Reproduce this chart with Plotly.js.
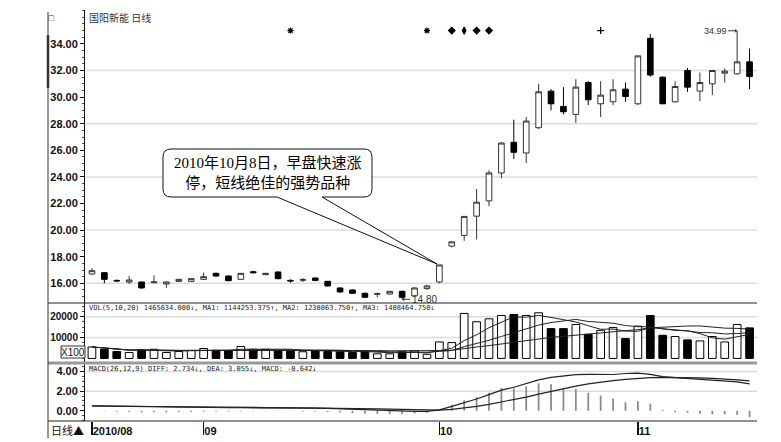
<!DOCTYPE html>
<html><head><meta charset="utf-8">
<script src="https://cdn.plot.ly/plotly-3.0.1.min.js"></script>
<style>html,body{margin:0;padding:0;background:#fff}#chart{width:781px;height:442px}</style>
</head><body><div id="chart"></div>
<script>
// ---------------- DATA ----------------
const dates = [
 '2010-08-19','2010-08-20','2010-08-23','2010-08-24','2010-08-25','2010-08-26','2010-08-27','2010-08-30','2010-08-31',
 '2010-09-01','2010-09-02','2010-09-03','2010-09-06','2010-09-07','2010-09-08','2010-09-09','2010-09-10','2010-09-13',
 '2010-09-14','2010-09-15','2010-09-16','2010-09-17','2010-09-20','2010-09-21','2010-09-27','2010-09-28','2010-09-29','2010-09-30',
 '2010-10-08','2010-10-11','2010-10-12','2010-10-13','2010-10-14','2010-10-15','2010-10-18','2010-10-19','2010-10-20',
 '2010-10-21','2010-10-22','2010-10-25','2010-10-26','2010-10-27','2010-10-28','2010-10-29',
 '2010-11-01','2010-11-02','2010-11-03','2010-11-04','2010-11-05','2010-11-08','2010-11-09','2010-11-10','2010-11-11','2010-11-12'
];
const openP = [16.70,16.80,16.22,16.10,16.10,16.05,15.95,16.15,16.15,16.30,16.75,16.55,16.30,16.87,16.65,16.85,16.22,16.23,16.40,16.15,15.65,15.50,15.25,15.18,15.20,15.40,15.05,15.60,
 16.10,18.80,19.60,21.05,22.20,24.30,26.60,25.80,27.70,30.45,29.30,28.70,31.10,29.50,29.65,30.60,
 29.50,34.42,31.50,29.65,32.00,30.45,31.00,31.80,31.75,32.65];
const highP = [17.15,16.85,16.28,16.55,16.12,16.60,16.15,16.35,16.40,16.80,16.80,16.60,16.78,16.95,16.78,16.90,16.30,16.40,16.45,16.18,15.70,15.55,15.30,15.30,15.42,15.45,15.70,15.90,
 17.38,19.12,21.03,23.10,24.50,26.60,28.30,28.50,31.00,30.60,30.75,31.35,31.20,31.20,31.35,31.10,
 33.10,34.75,31.55,31.20,32.20,31.85,32.05,32.15,34.99,33.65];
const lowP = [16.65,16.00,16.12,15.95,15.60,16.00,15.65,16.10,16.10,16.25,16.50,16.15,16.28,16.75,16.60,16.30,16.05,16.10,16.15,15.75,15.30,15.20,14.90,14.95,15.15,14.80,14.95,15.50,
 16.00,18.70,19.20,19.30,21.80,23.90,25.35,25.05,27.60,29.00,28.70,28.05,29.40,28.50,29.40,29.65,
 29.40,31.53,29.50,29.60,30.40,29.70,30.15,31.10,31.70,30.60];
const closeP = [16.95,16.30,16.18,16.25,15.65,16.10,16.10,16.30,16.35,16.50,16.55,16.20,16.75,16.80,16.75,16.35,16.18,16.27,16.22,15.80,15.35,15.25,14.95,15.22,15.40,14.95,15.65,15.80,
 17.38,19.12,21.03,22.10,24.30,26.55,25.85,28.20,30.40,29.50,28.90,30.75,29.80,30.15,30.55,30.05,
 33.10,31.66,29.50,30.80,30.75,31.10,32.00,31.95,32.65,31.55];
// volume in units of 100 shares (X100)
const volume = [5500,4400,3300,2850,4100,4400,2850,3300,3800,4750,3900,3800,5700,4400,4400,3800,3800,3200,3800,3300,3200,2850,3300,2200,2200,3200,3600,2000,
 7900,7600,21600,17600,19000,20600,21100,20600,21900,14300,14300,16300,11600,13500,14800,9500,
 15500,20600,11100,10500,8900,8400,10500,7900,16300,14656];
const macdDiff = [0.50,0.48,0.45,0.42,0.38,0.36,0.34,0.33,0.32,0.32,0.32,0.31,0.31,0.31,0.31,0.32,0.31,0.29,0.27,0.24,0.19,0.14,0.08,0.03,-0.01,-0.05,-0.06,-0.05,
 0.10,0.45,0.80,1.20,1.65,2.10,2.40,2.75,3.15,3.40,3.55,3.68,3.72,3.72,3.70,3.80,
 3.83,3.72,3.48,3.38,3.30,3.25,3.18,3.08,2.95,2.734];
const macdDea = [0.50,0.50,0.49,0.48,0.46,0.44,0.42,0.40,0.38,0.37,0.36,0.35,0.34,0.33,0.33,0.33,0.32,0.32,0.31,0.30,0.28,0.26,0.23,0.19,0.16,0.12,0.08,0.06,
 0.07,0.15,0.28,0.45,0.65,0.88,1.12,1.40,1.70,2.00,2.28,2.52,2.75,2.93,3.08,3.20,
 3.30,3.38,3.40,3.40,3.38,3.35,3.30,3.25,3.16,3.055];
const macdBar = [0.00,-0.04,-0.08,-0.12,-0.16,-0.16,-0.16,-0.14,-0.12,-0.10,-0.08,-0.08,-0.06,-0.04,-0.04,-0.02,-0.02,-0.06,-0.08,-0.12,-0.18,-0.24,-0.30,-0.32,-0.34,-0.34,-0.28,-0.22,
 0.06,0.62,1.07,1.40,1.83,2.34,2.28,2.50,2.80,2.70,2.34,2.24,1.83,1.55,1.24,0.86,
 0.97,0.72,0.10,-0.14,-0.20,-0.30,-0.35,-0.35,-0.40,-0.642];
const priceTicks = [16,18,20,22,24,26,28,30,32,34];
const priceGrid = [16,20,24,28,32];
const volTicks = [10000,20000];
const macdTicks = [0,2,4];
const macdGrid = [2,4];
const monthTickDates = ['2010-08-19','2010-09-01','2010-10-08','2010-11-01'];
const monthTickText = ['2010/08','09','10','11'];
const signalDates = ['2010-09-10','2010-09-30','2010-10-11','2010-10-12','2010-10-13','2010-10-14','2010-10-27'];
const signalLevel = 35.0;
const signalSymbols = ['asterisk-open','asterisk-open','diamond','diamond-tall','diamond','diamond','cross-thin-open'];
const titleText = '国阳新能 日线';
const volHeader = 'VOL(5,10,20) 1465634.000↓, MA1: 1144253.375↑, MA2: 1238063.750↑, MA3: 1408464.750↓';
const macdHeader = 'MACD(26,12,9) DIFF: 2.734↓, DEA: 3.055↓, MACD: -0.642↓';
const calloutText = '2010年10月8日，早盘快速涨<br>停，短线绝佳的强势品种';
const maxLabel = '34.99', minLabel = '14.80';

// ---------------- HELPERS ----------------
const W=781,H=442,ML=85,MR=24,MT=10,MB=21;
const PW=W-ML-MR, PH=H-MT-MB;
const px2x = p => (p-ML)/PW;
const py2y = p => (H-MB-p)/PH;
const pt = (x,y) => px2x(x).toFixed(5)+','+py2y(y).toFixed(5);
function movAvg(arr,n){return arr.map((_,i)=>{const s=Math.max(0,i-n+1);const w=arr.slice(s,i+1);return w.reduce((a,b)=>a+b,0)/w.length;});}
const up = closeP.map((c,i)=>c>=openP[i]);
const ma5=movAvg(volume,5), ma10=movAvg(volume,10), ma20=movAvg(volume,20);

const dPrice=[py2y(303),1], dVol=[py2y(363),py2y(303)], dMacd=[0,py2y(363)];
const tickFont={family:'Arial, Liberation Sans',size:11,color:'#111',weight:'bold'};
const tickFontSm={family:'Arial, Liberation Sans',size:10,color:'#111',weight:'bold'};

const traces=[
 {type:'candlestick',x:dates,open:openP,high:highP,low:lowP,close:closeP,xaxis:'x',yaxis:'y',
  increasing:{line:{color:'#333',width:1},fillcolor:'#ffffff'},
  decreasing:{line:{color:'#000',width:1},fillcolor:'#000000'},
  whiskerwidth:0,hoverinfo:'skip'},
 {type:'scatter',mode:'markers',x:signalDates,y:signalDates.map(()=>signalLevel),xaxis:'x',yaxis:'y',
  marker:{symbol:signalSymbols,size:5,color:'#000',line:{color:'#000',width:1.2}},hoverinfo:'skip'},
 {type:'bar',x:dates,y:volume,xaxis:'x',yaxis:'y2',width:0.62,
  marker:{color:up.map(u=>u?'#ffffff':'#000000'),line:{color:'#000',width:1}},hoverinfo:'skip'},
 {type:'scatter',mode:'lines',x:dates,y:ma5,xaxis:'x',yaxis:'y2',line:{color:'#222',width:1},hoverinfo:'skip'},
 {type:'scatter',mode:'lines',x:dates,y:ma10,xaxis:'x',yaxis:'y2',line:{color:'#222',width:1},hoverinfo:'skip'},
 {type:'scatter',mode:'lines',x:dates,y:ma20,xaxis:'x',yaxis:'y2',line:{color:'#222',width:1},hoverinfo:'skip'},
 {type:'bar',x:dates,y:macdBar,xaxis:'x',yaxis:'y3',width:0.14,marker:{color:'#888',line:{width:0}},hoverinfo:'skip'},
 {type:'scatter',mode:'lines',x:dates,y:macdDiff,xaxis:'x',yaxis:'y3',line:{color:'#222',width:1.2},hoverinfo:'skip'},
 {type:'scatter',mode:'lines',x:dates,y:macdDea,xaxis:'x',yaxis:'y3',line:{color:'#222',width:1.2},hoverinfo:'skip'}
];

const shapes=[];
priceGrid.forEach(v=>shapes.push({type:'line',xref:'paper',yref:'y',x0:0,x1:1,y0:v,y1:v,line:{color:'#dcdcdc',width:1.5},layer:'below'}));
volTicks.forEach(v=>shapes.push({type:'line',xref:'paper',yref:'y2',x0:0,x1:1,y0:v,y1:v,line:{color:'#dcdcdc',width:1.5},layer:'below'}));
macdGrid.forEach(v=>shapes.push({type:'line',xref:'paper',yref:'y3',x0:0,x1:1,y0:v,y1:v,line:{color:'#dcdcdc',width:1.5},layer:'below'}));
const hline=(y,c,w,x0=48,x1=757)=>shapes.push({type:'line',xref:'paper',yref:'paper',x0:px2x(x0),x1:px2x(x1),y0:py2y(y),y1:py2y(y),line:{color:c,width:w}});
hline(303,'#222',1);
hline(363,'#999',3);
hline(421,'#222',1.2);
shapes.push({type:'line',xref:'paper',yref:'paper',x0:px2x(48),x1:px2x(48),y0:py2y(12),y1:py2y(438),line:{color:'#333',width:1}});
shapes.push({type:'line',xref:'paper',yref:'paper',x0:px2x(48),x1:px2x(48),y0:py2y(35),y1:py2y(88),line:{color:'#333',width:2.5}});
shapes.push({type:'rect',xref:'paper',yref:'paper',x0:px2x(61),x1:px2x(85),y0:py2y(358),y1:py2y(346),line:{color:'#333',width:1},fillcolor:'#fff'});
const cpath='M'+pt(171,149)+' L'+pt(364,149)+' Q'+pt(372,149)+' '+pt(372,157)+' L'+pt(372,189)+' Q'+pt(372,197)+' '+pt(364,197)+
 ' L'+pt(322,197)+' L'+pt(437,264)+' L'+pt(277,197)+' L'+pt(171,197)+' Q'+pt(163,197)+' '+pt(163,189)+' L'+pt(163,157)+' Q'+pt(163,149)+' '+pt(171,149)+' Z';
shapes.push({type:'path',xref:'paper',yref:'paper',path:cpath,line:{color:'#111',width:1},fillcolor:'#ffffff'});

const smallFont={family:'DejaVu Sans Mono, Liberation Mono',size:7,color:'#222'};
const annotations=[
 {xref:'paper',yref:'paper',x:px2x(87),y:py2y(18),xanchor:'left',yanchor:'middle',showarrow:false,text:titleText,font:{family:'Noto Sans CJK SC',size:10,color:'#333'}},
 {xref:'paper',yref:'paper',x:px2x(46),y:py2y(18),xanchor:'left',yanchor:'middle',showarrow:false,text:'□',font:{family:'DejaVu Sans',size:7,color:'#333'}},
 {xref:'paper',yref:'paper',x:px2x(87),y:py2y(308),xanchor:'left',yanchor:'middle',showarrow:false,text:volHeader,font:smallFont},
 {xref:'paper',yref:'paper',x:px2x(87),y:py2y(369),xanchor:'left',yanchor:'middle',showarrow:false,text:macdHeader,font:smallFont},
 {xref:'paper',yref:'paper',x:px2x(73),y:py2y(352),xanchor:'center',yanchor:'middle',showarrow:false,text:'X100',font:{family:'Arial',size:10,color:'#111'}},
 {xref:'paper',yref:'paper',x:px2x(49),y:py2y(430),xanchor:'left',yanchor:'middle',showarrow:false,text:'日线▲',font:{family:'Noto Sans CJK SC',size:11,color:'#111'}},
 {xref:'paper',yref:'paper',x:px2x(268),y:py2y(173),xanchor:'center',yanchor:'middle',showarrow:false,text:calloutText,align:'center',
  font:{family:'Liberation Serif, Noto Sans CJK SC',size:15,color:'#000'}},
 {xref:'x',yref:'y',x:dates[highP.indexOf(Math.max(...highP))],y:Math.max(...highP),ax:-22,ay:0,showarrow:true,arrowhead:1,arrowsize:0.7,arrowwidth:1,arrowcolor:'#333',
  text:maxLabel,font:{family:'Arial',size:9,color:'#333'}},
 {xref:'x',yref:'y',x:dates[lowP.indexOf(Math.min(...lowP))],y:Math.min(...lowP),ax:22,ay:0,showarrow:true,arrowhead:1,arrowsize:0.7,arrowwidth:1,arrowcolor:'#333',
  text:minLabel,font:{family:'Arial',size:10,color:'#333'}}
];

const layout={
 width:W,height:H,margin:{l:ML,r:MR,t:MT,b:MB},paper_bgcolor:'#fff',plot_bgcolor:'#fff',showlegend:false,
 boxgap:0.35,barmode:'overlay',
 xaxis:{type:'category',range:[-0.56,53.6],anchor:'y3',tickvals:monthTickDates,ticktext:monthTickText,ticks:'outside',ticklen:13,tickwidth:1.5,
  tickcolor:'#111',ticklabelposition:'outside right',tickfont:tickFont,showgrid:false,showline:false,zeroline:false,rangeslider:{visible:false},fixedrange:true},
 yaxis:{domain:dPrice,range:[14.52,36.55],tickvals:priceTicks,tickformat:'.2f',ticks:'outside',ticklen:4,tickcolor:'#111',tickfont:tickFont,
  showgrid:false,zeroline:false,showline:true,linecolor:'#111',linewidth:1,
  minor:{dtick:0.5,tick0:0,ticks:'outside',ticklen:2,tickcolor:'#444',showgrid:false},fixedrange:true},
 yaxis2:{domain:dVol,range:[-2200,26600],tickvals:volTicks,tickformat:'d',ticks:'outside',ticklen:4,tickcolor:'#111',tickfont:tickFontSm,
  showgrid:false,zeroline:false,showline:true,linecolor:'#111',linewidth:1,
  minor:{dtick:2500,ticks:'outside',ticklen:2,tickcolor:'#444',showgrid:false},fixedrange:true},
 yaxis3:{domain:dMacd,range:[-1.04,4.87],tickvals:macdTicks,tickformat:'.2f',ticks:'outside',ticklen:4,tickcolor:'#111',tickfont:tickFont,
  showgrid:false,zeroline:false,showline:true,linecolor:'#111',linewidth:1,
  minor:{dtick:0.5,ticks:'outside',ticklen:2,tickcolor:'#444',showgrid:false},fixedrange:true},
 shapes:shapes,annotations:annotations
};
Plotly.newPlot('chart',traces,layout,{displayModeBar:false,staticPlot:true});
</script></body></html>
